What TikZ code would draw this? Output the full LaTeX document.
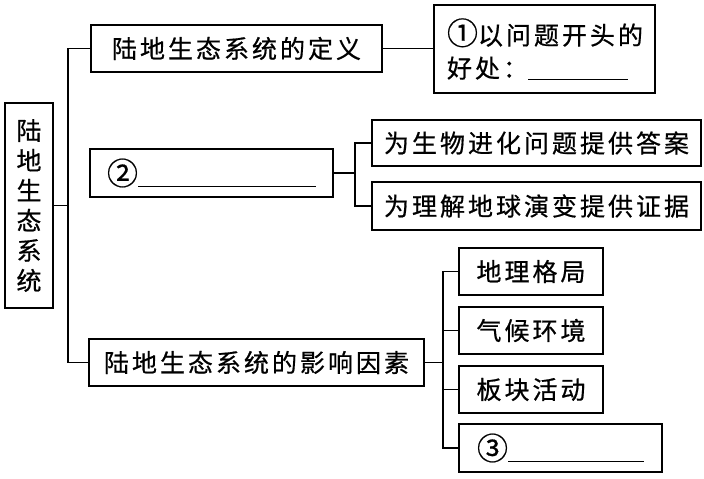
\documentclass[tikz,border=0pt]{standalone}
\usepackage{fontspec}
\setmainfont{Noto Sans CJK SC}[LetterSpace=12,FakeBold=0.6]
\newcommand{\circnum}[1]{{\fontsize{31}{30}\selectfont #1}}
\begin{document}
\begin{tikzpicture}[x=1pt,y=-1pt,line width=1.5pt,
  box/.style={draw, inner sep=0pt, font=\fontsize{25}{30}\selectfont}]
\useasboundingbox (0,0) rectangle (704,479);
% nodes
\node[box, minimum width=48, minimum height=205, align=center] (root) at (29,205.5) {陆\\地\\生\\态\\系\\统};
\node[box, minimum width=291, minimum height=47] (def) at (236.5,48.5) {陆地生态系统的定义};
\node[box, text width=195pt, inner xsep=13pt, minimum height=88, align=left, font=\fontsize{25}{33}\selectfont] (q1) at (544.5,49) {\circnum{①}以问题开头的\\好处：\rule[-2pt]{100pt}{1pt}};
\node[box, minimum width=243, minimum height=48] (mid) at (211.5,173) {\circnum{②}\rule[-2pt]{178pt}{1pt}};
\node[box, minimum width=329, minimum height=46] (r1) at (536.5,143) {为生物进化问题提供答案};
\node[box, minimum width=329, minimum height=48] (r2) at (536.5,206) {为理解地球演变提供证据};
\node[box, minimum width=335, minimum height=47] (bot) at (256.5,362.5) {陆地生态系统的影响因素};
\node[box, minimum width=144, minimum height=47] (f1) at (531,271.5) {地理格局};
\node[box, minimum width=144, minimum height=47] (f2) at (531,330.5) {气候环境};
\node[box, minimum width=144, minimum height=47] (f3) at (531,389.5) {板块活动};
\node[box, minimum width=203, minimum height=48] (f4) at (560.5,448) {\circnum{③}\rule[-2pt]{136pt}{1pt}};
% connectors
\coordinate (tk) at (68,205.5);
\draw (root.east) -- (tk);
\draw (def.west) -| (tk) |- (bot.west);
\draw (def.east) -- (def.east -| q1.west);
\coordinate (mj) at (355,173);
\draw (mid.east) -- (mj);
\draw (r1.west) -| (mj) |- (r2.west);
\coordinate (bj) at (443,362.5);
\draw (bot.east) -- (bj);
\draw (f1.west) -| (bj) |- (f4.west);
\draw (f2.west) -- (f2.west -| bj);
\draw (f3.west) -- (f3.west -| bj);
\end{tikzpicture}
\end{document}
